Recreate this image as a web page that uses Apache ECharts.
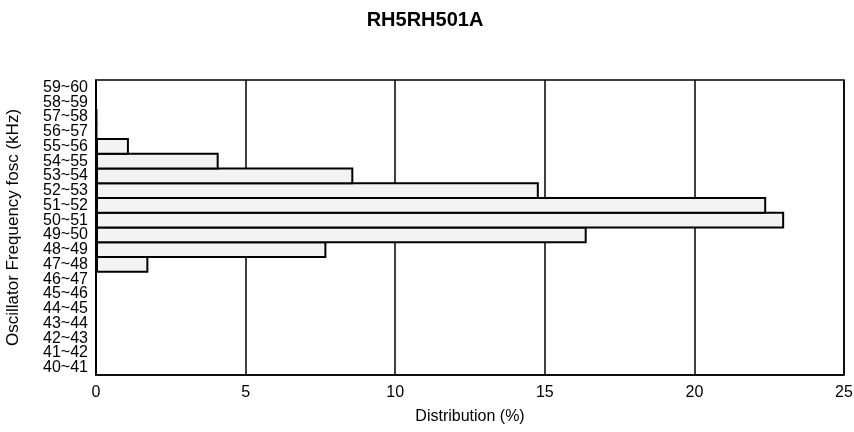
<!DOCTYPE html>
<html>
<head>
<meta charset="utf-8">
<script src="https://cdn.jsdelivr.net/npm/echarts@6/dist/echarts.min.js"></script>
<style>html,body{margin:0;padding:0;background:#fff;}#c{width:854px;height:432px;}</style>
</head>
<body>
<div id="c"></div>
<script>
const categories = ['40~41','41~42','42~43','43~44','44~45','45~46','46~47','47~48','48~49','49~50','50~51','51~52','52~53','53~54','54~55','55~56','56~57','57~58','58~59','59~60'];
const distribution = [0,0,0,0,0,0,0,1.75,7.7,16.4,23.0,22.4,14.8,8.6,4.1,1.1,0.03,0.03,0,0];
const xTicks = [0,5,10,15,20,25];

const chart = echarts.init(document.getElementById('c'));
const font = 'Liberation Sans, Arial, sans-serif';
chart.setOption({
  animation: false,
  backgroundColor: '#fff',
  title: {
    text: 'RH5RH501A', left: 420, top: 5, textAlign: 'center',
    textStyle: {fontFamily: font, fontSize: 20, fontWeight: 'bold', color: '#000'}
  },
  grid: {left: 96, right: 10, top: 80, bottom: 57, show: true, borderColor: '#000', borderWidth: 1.5,
         backgroundColor: 'transparent', containLabel: false, outerBoundsMode: 'none'},
  xAxis: {
    type: 'value', min: xTicks[0], max: xTicks[xTicks.length-1], interval: 5,
    name: 'Distribution (%)', nameLocation: 'middle', nameGap: 34,
    nameTextStyle: {fontFamily: font, fontSize: 16, color: '#000'},
    axisLine: {show: true, lineStyle: {color: '#000', width: 1.5}},
    axisTick: {show: false},
    axisLabel: {fontFamily: font, fontSize: 16, color: '#000', margin: 10},
    splitLine: {show: true, lineStyle: {color: '#000', width: 1.5}}
  },
  yAxis: {
    type: 'category', data: categories,
    name: 'Oscillator Frequency fosc (kHz)', nameLocation: 'middle', nameGap: 74,
    nameTextStyle: {fontFamily: font, fontSize: 17, color: '#000'},
    axisLine: {show: true, lineStyle: {color: '#000', width: 1.5}},
    axisTick: {show: false},
    axisLabel: {fontFamily: font, fontSize: 16, color: '#000', margin: 8, interval: 0},
    splitLine: {show: false}
  },
  series: [{
    type: 'bar', data: distribution, barWidth: '112%',
    itemStyle: {color: '#f3f3f3', borderColor: '#000', borderWidth: 2}
  }]
});
</script>
</body>
</html>
